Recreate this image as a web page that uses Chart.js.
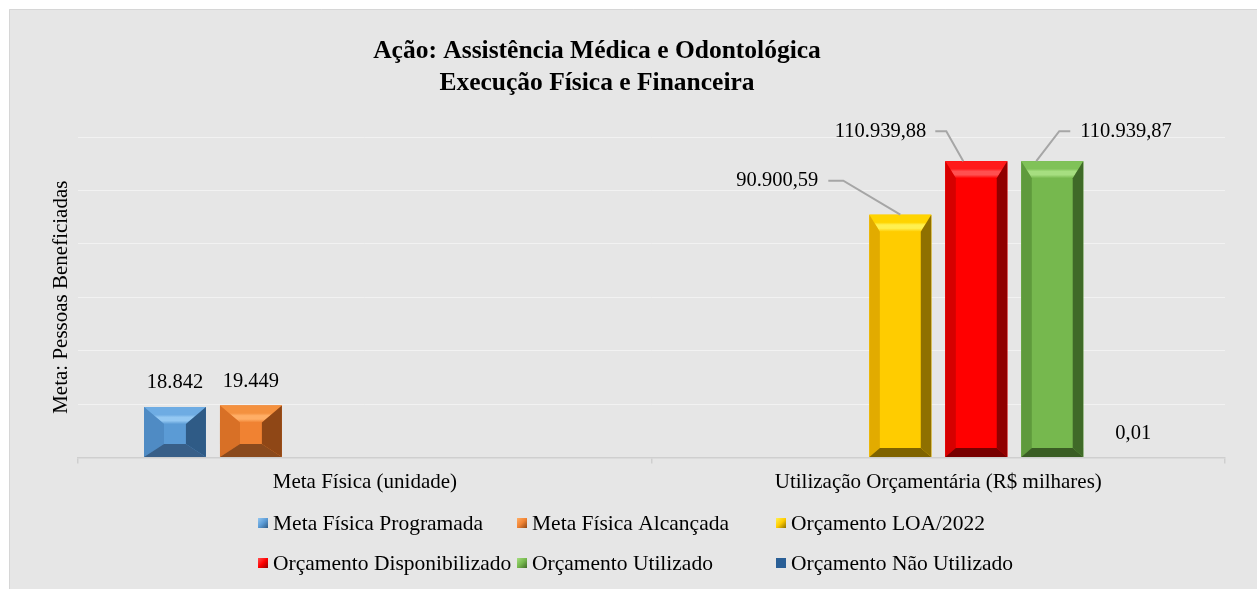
<!DOCTYPE html>
<html>
<head>
<meta charset="utf-8">
<script src="https://cdn.jsdelivr.net/npm/chart.js@4"></script>
<style>
  html, body { margin: 0; padding: 0; background: #ffffff; }
  #wrap { position: relative; width: 1257px; height: 589px; }
</style>
</head>
<body>
<div id="wrap"><canvas id="c" width="1257" height="589"></canvas></div>
<script>
// ---------- DATA ----------
const categories = ['Meta Física (unidade)', 'Utilização Orçamentária (R$ milhares)'];
const seriesNames = ['Meta Física Programada', 'Meta Física Alcançada', 'Orçamento LOA/2022',
                     'Orçamento Disponibilizado', 'Orçamento Utilizado', 'Orçamento Não Utilizado'];
const metaProgramada     = [18842, null];
const metaAlcancada      = [19449, null];
const orcamentoLOA       = [null, 90900.59];
const orcamentoDisponib  = [null, 110939.88];
const orcamentoUtilizado = [null, 110939.87];
const orcamentoNaoUtil   = [null, 0.01];
const yMin = 0, yMax = 120000, yStep = 20000;
const titleLines = ['Ação: Assistência Médica e Odontológica', 'Execução Física e Financeira'];
const yAxisTitle = 'Meta: Pessoas Beneficiadas';
const labelDecimals = [0, 2]; // per category

// ---------- STYLES ----------
const SERIF = '"Liberation Serif", "Times New Roman", serif';
const palettes = [
  { face:'#5b9bd5', top:'#6eace3', stripe:'#94c8f2', left:'#4f8bc4', right:'#2f5b86', bottom:'#385f88' },
  { face:'#f08232', top:'#f4913f', stripe:'#ffae66', left:'#d87026', right:'#8f4716', bottom:'#8a4a1d' },
  { face:'#ffcc00', top:'#ffd400', stripe:'#fff050', left:'#e2ab00', right:'#8f7000', bottom:'#7f6300' },
  { face:'#ff0000', top:'#ff1a1a', stripe:'#ff5050', left:'#d60000', right:'#900000', bottom:'#780000' },
  { face:'#76b84e', top:'#80c258', stripe:'#a6de80', left:'#5f9a3d', right:'#3f6a28', bottom:'#3a5d24' },
  { face:'#2a5f96', top:'#2a5f96', stripe:'#2a5f96', left:'#2a5f96', right:'#2a5f96', bottom:'#2a5f96', flat:true }
];
// data-label placement styles per dataset
const labelStyles = [
  { mode:'above', dy:-24 },
  { mode:'above', dy:-24 },
  { mode:'leader', align:'right', tx:-82, ty:-34, l1:-72, l2:-57, ex:0 },
  { mode:'leader', align:'right', tx:-50, ty:-30, l1:-41, l2:-30, ex:-13 },
  { mode:'leader', align:'left',  tx:28,  ty:-30, l1:18,  l2:7,   ex:-16 },
  { mode:'aboveBase', dx:5, dy:-23 }
];
const seriesData = [metaProgramada, metaAlcancada, orcamentoLOA, orcamentoDisponib, orcamentoUtilizado, orcamentoNaoUtil];

function fmt(v, dec) {
  const s = v.toFixed(dec);
  const parts = s.split('.');
  const i = parts[0].replace(/\B(?=(\d{3})+(?!\d))/g, '.');
  return parts[1] ? i + ',' + parts[1] : i;
}

function drawBevel(ctx, x0, y0, x1, y1, p) {
  const h = y1 - y0, w = x1 - x0;
  if (h < 1.5) return;
  ctx.save();
  ctx.fillStyle = p.face;
  ctx.fillRect(x0, y0, w, h);
  if (p.flat) { ctx.restore(); return; }
  const small = h < 120;
  const st = Math.min(17, h * 0.36), ss = small ? 20 : 10.5, sb = small ? 13 : 9;
  const g = ctx.createLinearGradient(0, y0, 0, y0 + st);
  g.addColorStop(0, p.top); g.addColorStop(0.45, p.top); g.addColorStop(0.6, p.stripe);
  g.addColorStop(0.8, p.stripe); g.addColorStop(1, p.face);
  ctx.fillStyle = g;
  ctx.beginPath(); ctx.moveTo(x0, y0); ctx.lineTo(x1, y0); ctx.lineTo(x1 - ss, y0 + st); ctx.lineTo(x0 + ss, y0 + st); ctx.closePath(); ctx.fill();
  ctx.fillStyle = p.left;
  ctx.beginPath(); ctx.moveTo(x0, y0); ctx.lineTo(x0 + ss, y0 + st); ctx.lineTo(x0 + ss, y1 - sb); ctx.lineTo(x0, y1); ctx.closePath(); ctx.fill();
  ctx.fillStyle = p.right;
  ctx.beginPath(); ctx.moveTo(x1, y0); ctx.lineTo(x1, y1); ctx.lineTo(x1 - ss, y1 - sb); ctx.lineTo(x1 - ss, y0 + st); ctx.closePath(); ctx.fill();
  ctx.fillStyle = p.bottom;
  ctx.beginPath(); ctx.moveTo(x0, y1); ctx.lineTo(x1, y1); ctx.lineTo(x1 - ss, y1 - sb); ctx.lineTo(x0 + ss, y1 - sb); ctx.closePath(); ctx.fill();
  ctx.restore();
}

const panelPlugin = {
  id: 'panel',
  beforeDraw(chart) {
    const ctx = chart.ctx;
    ctx.save();
    ctx.fillStyle = '#ffffff';
    ctx.fillRect(0, 0, chart.width, chart.height);
    ctx.fillStyle = '#e6e6e6';
    ctx.fillRect(9, 9, chart.width - 9, chart.height - 9);
    ctx.strokeStyle = '#d6d6d6'; ctx.lineWidth = 1;
    ctx.beginPath(); ctx.moveTo(9.5, chart.height); ctx.lineTo(9.5, 9.5); ctx.lineTo(chart.width, 9.5); ctx.stroke();
    ctx.restore();
  }
};

const titlePlugin = {
  id: 'customTitle',
  afterDraw(chart) {
    const ctx = chart.ctx;
    ctx.save();
    ctx.fillStyle = '#000';
    ctx.font = 'bold 25.5px ' + SERIF;
    ctx.textAlign = 'center'; ctx.textBaseline = 'middle';
    ctx.fillText(titleLines[0], 597, 51);
    ctx.fillText(titleLines[1], 597, 83);
    ctx.restore();
  }
};

const bevelLabelPlugin = {
  id: 'bevelLabels',
  afterDatasetsDraw(chart) {
    const ctx = chart.ctx;
    chart.data.datasets.forEach((ds, di) => {
      const meta = chart.getDatasetMeta(di);
      meta.data.forEach((bar, i) => {
        if (ds.data[i] == null) return;
        const x0 = bar.x - bar.width / 2, x1 = bar.x + bar.width / 2;
        drawBevel(ctx, x0, Math.min(bar.y, bar.base), x1, Math.max(bar.y, bar.base), palettes[di]);
      });
    });
    ctx.save();
    ctx.font = '20.5px ' + SERIF;
    ctx.fillStyle = '#000';
    ctx.textBaseline = 'middle';
    chart.data.datasets.forEach((ds, di) => {
      const meta = chart.getDatasetMeta(di);
      const st = labelStyles[di];
      meta.data.forEach((bar, i) => {
        const v = ds.data[i];
        if (v == null) return;
        const txt = fmt(v, labelDecimals[i]);
        if (st.mode === 'above') {
          ctx.textAlign = 'center';
          ctx.fillText(txt, bar.x, bar.y + st.dy);
        } else if (st.mode === 'aboveBase') {
          ctx.textAlign = 'center';
          ctx.fillText(txt, bar.x + st.dx, bar.base + st.dy);
        } else {
          const ly = bar.y + st.ty;
          ctx.textAlign = st.align;
          ctx.fillText(txt, bar.x + st.tx, ly);
          ctx.strokeStyle = '#a6a6a6'; ctx.lineWidth = 2;
          ctx.beginPath();
          ctx.moveTo(bar.x + st.l1, ly);
          ctx.lineTo(bar.x + st.l2, ly);
          ctx.lineTo(bar.x + st.ex, bar.y);
          ctx.stroke();
        }
      });
    });
    ctx.restore();
  }
};

const legendPlugin = {
  id: 'columnLegend',
  afterDraw(chart) {
    const ctx = chart.ctx;
    const cols = [258, 517, 776];
    const rows = [523, 563];
    ctx.save();
    ctx.font = '21.5px ' + SERIF;
    ctx.textBaseline = 'middle'; ctx.textAlign = 'left';
    chart.data.datasets.forEach((ds, di) => {
      const x = cols[di % 3], y = rows[Math.floor(di / 3)];
      const p = palettes[di];
      const s = 10;
      if (p.flat) {
        ctx.fillStyle = p.face; ctx.fillRect(x, y - s / 2, s, s);
      } else {
        const g = ctx.createLinearGradient(x, y - s / 2, x + s, y + s / 2);
        g.addColorStop(0, p.stripe); g.addColorStop(0.5, p.face); g.addColorStop(1, p.right);
        ctx.fillStyle = g; ctx.fillRect(x, y - s / 2, s, s);
      }
      ctx.fillStyle = '#000';
      ctx.fillText(ds.label, x + 15, y + 1);
    });
    ctx.restore();
  }
};

const datasets = seriesNames.map((name, k) => ({
  label: name,
  data: seriesData[k],
  backgroundColor: palettes[k].flat ? 'rgba(0,0,0,0)' : palettes[k].face,
  borderWidth: 0,
  categoryPercentage: 0.795,
  barPercentage: 0.815
}));

new Chart(document.getElementById('c'), {
  type: 'bar',
  data: { labels: categories, datasets },
  plugins: [panelPlugin, bevelLabelPlugin, titlePlugin, legendPlugin],
  options: {
    responsive: false,
    animation: false,
    layout: { padding: { left: 49, right: 32, top: 137, bottom: 88.4 } },
    plugins: { legend: { display: false }, title: { display: false }, tooltip: { enabled: false } },
    scales: {
      x: {
        offset: true,
        grid: { drawOnChartArea: false, drawTicks: true, tickLength: 6, color: '#cfcfcf', lineWidth: 1.5 },
        border: { display: true, color: '#cfcfcf', width: 1.5 },
        ticks: { color: '#000', font: { family: SERIF, size: 21 }, padding: 6, maxRotation: 0 }
      },
      y: {
        min: yMin, max: yMax,
        ticks: { display: false, stepSize: yStep },
        grid: { color: '#f2f2f2', lineWidth: 1, drawTicks: false },
        border: { display: false },
        title: { display: true, text: yAxisTitle, color: '#000', font: { family: SERIF, size: 21 }, padding: { top: 0, bottom: 4 } }
      }
    }
  }
});
</script>
</body>
</html>
